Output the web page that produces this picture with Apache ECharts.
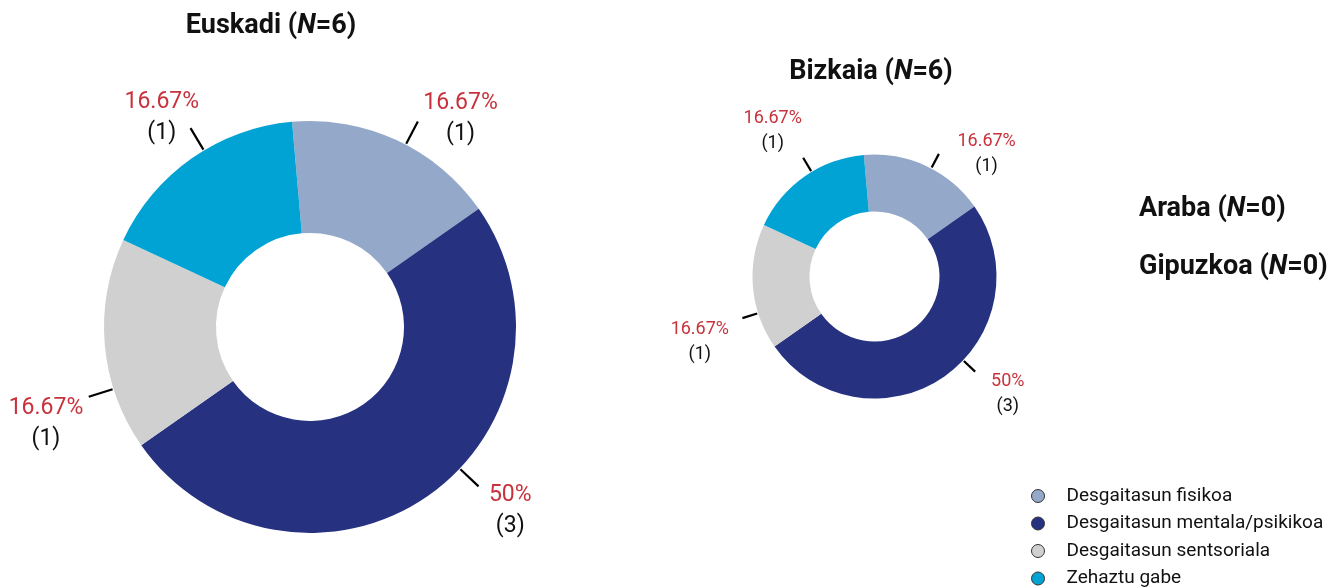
<!DOCTYPE html>
<html>
<head>
<meta charset="utf-8">
<script src="https://cdn.jsdelivr.net/npm/echarts@6/dist/echarts.min.js"></script>
<style>
html,body{margin:0;padding:0;background:#fff;}
#main{width:1339px;height:587px;}
</style>
</head>
<body>
<div id="main"></div>
<script>
const categories = ['Desgaitasun fisikoa', 'Desgaitasun mentala/psikikoa', 'Desgaitasun sentsoriala', 'Zehaztu gabe'];
const colors = ['#94A9C9', '#263180', '#D0D0D0', '#00A3D3'];
const euskadiValues = [1, 3, 1, 1];
const bizkaiaValues = [1, 3, 1, 1];
const euskadiTitle = ['Euskadi (', 'N', '=6)'];
const bizkaiaTitle = ['Bizkaia (', 'N', '=6)'];
const arabaTitle = ['Araba (', 'N', '=0)'];
const gipuzkoaTitle = ['Gipuzkoa (', 'N', '=0)'];

const FONT = 'Roboto';
const RED = '#C8323C';

// styling of labels / leader lines (per slice index)
const leaderAngles = [62.3, -43.4, 197.5, 121];
const euskadiNudge = [[8, 0], [39, -5], [3, 77], [29, -21]];
const bizkaiaNudge = [[17, 2], [30, 5], [-1, 54], [14, -33]];

const EUS = { center: [310, 327], radius: [94, 206] };
const BIZ = { center: [874.5, 276.5], radius: [65, 122] };

function toData(vals) {
  return categories.map((n, i) => ({ name: n, value: vals[i], itemStyle: { color: colors[i] } }));
}
function titleText(parts) {
  return '{b|' + parts[0] + '}{i|' + parts[1] + '}{b|' + parts[2] + '}';
}
function mkTitle(parts, left, top, align) {
  return {
    text: titleText(parts), left: left, top: top, padding: 0,
    textAlign: align, textVerticalAlign: 'top',
    textStyle: {
      rich: {
        b: { fontFamily: FONT, fontWeight: 'bold', fontSize: 27, color: '#111' },
        i: { fontFamily: FONT, fontWeight: 'bold', fontStyle: 'italic', fontSize: 27, color: '#111' }
      }
    }
  };
}
function labelCfg(vals, fs, lh) {
  const total = vals.reduce((a, b) => a + b, 0);
  return {
    show: true,
    position: 'outside',
    overflow: 'none',
    padding: [0, 3],
    formatter: function (p) {
      const pct = Math.round(p.value / total * 10000) / 100;
      return '{p|' + pct + '%}\n{c|(' + p.value + ')}';
    },
    rich: {
      p: { fontFamily: FONT, fontSize: fs, lineHeight: lh, color: RED, align: 'center' },
      c: { fontFamily: FONT, fontSize: fs, lineHeight: lh, color: '#111', align: 'center' }
    }
  };
}
function layouter(nudge, geo, gap, len) {
  return function (params) {
    const i = params.dataIndex;
    const n = nudge[i];
    const a = leaderAngles[i] * Math.PI / 180;
    const cx = geo.center[0], cy = geo.center[1];
    const r0 = geo.radius[1] + gap, r1 = r0 + len;
    return {
      dx: n[0], dy: n[1],
      labelLinePoints: [
        [cx + r0 * Math.cos(a), cy - r0 * Math.sin(a)],
        [cx + r1 * Math.cos(a), cy - r1 * Math.sin(a)]
      ]
    };
  };
}

const chart = echarts.init(document.getElementById('main'), null, { renderer: 'canvas' });
chart.setOption({
  backgroundColor: '#fff',
  animation: false,
  title: [
    mkTitle(euskadiTitle, 271, 13, 'center'),
    mkTitle(bizkaiaTitle, 871, 59, 'center'),
    mkTitle(arabaTitle, 1139, 196, 'left'),
    mkTitle(gipuzkoaTitle, 1139, 254, 'left')
  ],
  legend: {
    orient: 'vertical',
    left: 1031,
    top: 486,
    height: 200,
    padding: 0,
    itemGap: 7.5,
    itemWidth: 13,
    itemHeight: 13,
    icon: 'circle',
    itemStyle: { borderColor: '#333', borderWidth: 1 },
    textStyle: { fontFamily: FONT, fontSize: 19, lineHeight: 20, color: '#111', padding: [0, 0, 0, 17] },
    data: categories
  },
  series: [
    {
      type: 'pie',
      name: 'Euskadi',
      center: EUS.center,
      radius: EUS.radius,
      startAngle: 95,
      clockwise: true,
      silent: true,
      bleedMargin: 0,
      label: labelCfg(euskadiValues, 23, 31),
      labelLine: { show: true, length: 24, length2: 0, lineStyle: { color: '#000', width: 2.2 } },
      labelLayout: layouter(euskadiNudge, EUS, 1, 25),
      data: toData(euskadiValues)
    },
    {
      type: 'pie',
      name: 'Bizkaia',
      center: BIZ.center,
      radius: BIZ.radius,
      startAngle: 95,
      clockwise: true,
      silent: true,
      bleedMargin: 0,
      label: labelCfg(bizkaiaValues, 18, 25),
      labelLine: { show: true, length: 15, length2: 0, lineStyle: { color: '#000', width: 2.2 } },
      labelLayout: layouter(bizkaiaNudge, BIZ, 1, 15.5),
      data: toData(bizkaiaValues)
    }
  ]
});
</script>
</body>
</html>
